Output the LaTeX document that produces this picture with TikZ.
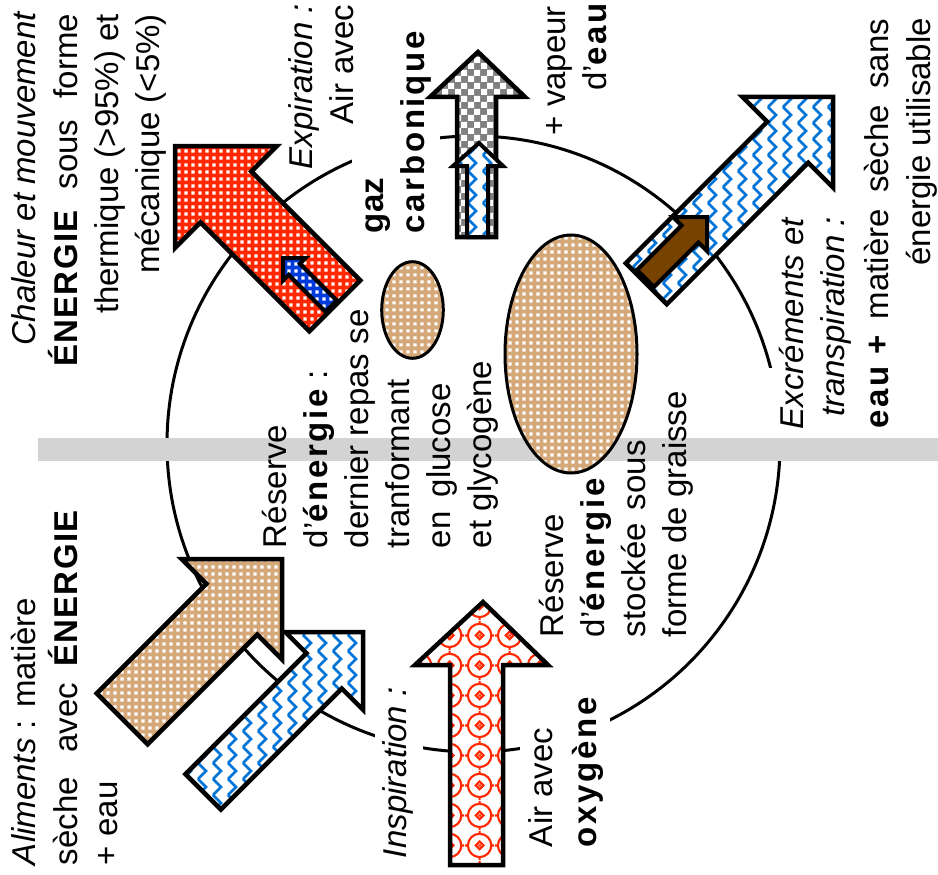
\documentclass[tikz,border=0pt]{standalone}
\usepackage{fontspec}
\setmainfont{Liberation Sans}
\newfontfamily\kwfont[LetterSpace=8]{Liberation Sans}
\newfontfamily\kwEfont[LetterSpace=4]{Liberation Sans}
\usetikzlibrary{patterns}

\definecolor{arrowred}{RGB}{255,40,0}
\definecolor{dotblue}{RGB}{0,60,220}
\definecolor{wavblue}{RGB}{0,115,215}
\definecolor{foodtan}{RGB}{212,168,120}
\definecolor{dkbrown}{RGB}{120,66,0}
\definecolor{bandgrey}{RGB}{211,211,211}
\definecolor{midgrey}{RGB}{128,128,128}

\newcommand{\kwb}[1]{{\kwfont\bfseries #1}}
\newcommand{\kwbig}[1]{{\kwEfont\bfseries #1}}

\pgfdeclarepatternformonly{mysq}{\pgfqpoint{0pt}{0pt}}{\pgfqpoint{6.5pt}{6.5pt}}{\pgfqpoint{6.5pt}{6.5pt}}{%
  \pgfpathrectangle{\pgfqpoint{1.6pt}{1.6pt}}{\pgfqpoint{3.3pt}{3.3pt}}\pgfusepath{fill}}
\pgfdeclarepatternformonly{mycheck}{\pgfqpoint{0pt}{0pt}}{\pgfqpoint{13pt}{13pt}}{\pgfqpoint{13pt}{13pt}}{%
  \pgfpathrectangle{\pgfqpoint{0pt}{0pt}}{\pgfqpoint{6.5pt}{6.5pt}}%
  \pgfpathrectangle{\pgfqpoint{6.5pt}{6.5pt}}{\pgfqpoint{6.5pt}{6.5pt}}\pgfusepath{fill}}
\pgfdeclarepatternformonly{myzig}{\pgfqpoint{-3pt}{-3pt}}{\pgfqpoint{18pt}{19pt}}{\pgfqpoint{15pt}{16pt}}{%
  \pgfsetlinewidth{2.6pt}\pgfsetmiterjoin%
  \pgfpathmoveto{\pgfqpoint{3pt}{0pt}}\pgfpathlineto{\pgfqpoint{11pt}{8pt}}\pgfpathlineto{\pgfqpoint{3pt}{16pt}}\pgfusepath{stroke}}
\pgfdeclarepatternformonly{mylat}{\pgfqpoint{-15pt}{-15pt}}{\pgfqpoint{15pt}{15pt}}{\pgfqpoint{30pt}{30pt}}{%
  \pgfsetlinewidth{2.2pt}%
  \pgfpathcircle{\pgfqpoint{0pt}{0pt}}{12pt}%
  \pgfpathmoveto{\pgfqpoint{0pt}{12pt}}\pgfpathlineto{\pgfqpoint{0pt}{15pt}}%
  \pgfpathmoveto{\pgfqpoint{0pt}{-12pt}}\pgfpathlineto{\pgfqpoint{0pt}{-15pt}}%
  \pgfpathmoveto{\pgfqpoint{12pt}{0pt}}\pgfpathlineto{\pgfqpoint{15pt}{0pt}}%
  \pgfpathmoveto{\pgfqpoint{-12pt}{0pt}}\pgfpathlineto{\pgfqpoint{-15pt}{0pt}}%
  \pgfpathmoveto{\pgfqpoint{0pt}{4pt}}\pgfpathlineto{\pgfqpoint{4pt}{0pt}}\pgfpathlineto{\pgfqpoint{0pt}{-4pt}}\pgfpathlineto{\pgfqpoint{-4pt}{0pt}}\pgfpathclose
  \pgfusepath{stroke}%
  \pgfpathrectangle{\pgfqpoint{-1.2pt}{-1.2pt}}{\pgfqpoint{2.4pt}{2.4pt}}\pgfusepath{fill}}

% block arrow: style, tip, canvas angle, length, shaft half width, head half width, head length
\newcommand{\blkarrow}[7]{%
  \draw[#1, shift={#2}, rotate=#3] (0,0) -- (-#7,#6) -- (-#7,#5) -- (-#4,#5) -- (-#4,-#5) -- (-#7,-#5) -- (-#7,-#6) -- cycle;}

\begin{document}
\begin{tikzpicture}[x=1pt, y=-1pt,
  every node/.style={inner sep=0pt, outer sep=0pt},
  txt/.style={rotate=90, font=\fontsize{33}{41}\selectfont},
  arrowline/.style={draw=black, line width=4.5pt, line join=miter},
  redfill/.style={arrowline, preaction={fill=arrowred}, pattern=mysq, pattern color=white},
  bluefill/.style={draw=black, line width=4pt, preaction={fill=dotblue}, pattern=mysq, pattern color=white},
  greyfill/.style={arrowline, preaction={fill=midgrey}, pattern=mycheck, pattern color=white},
  wavefill/.style={arrowline, preaction={fill=white}, pattern=myzig, pattern color=wavblue},
  tanfill/.style={arrowline, preaction={fill=foodtan}, pattern=mysq, pattern color=white},
  brownfill/.style={draw=black, line width=4pt, fill=dkbrown},
  latfill/.style={arrowline, preaction={fill=white}, pattern=mylat, pattern color=arrowred},
  reserve/.style={draw=black, line width=3pt, preaction={fill=foodtan}, pattern=mysq, pattern color=white}]

\useasboundingbox (0,0) rectangle (938,875);
\fill[white] (0,0) rectangle (938,875);

% body outline
\draw[line width=3pt] (473.5,444) ellipse [x radius=306.5, y radius=308];

% masks under text boxes
\fill[white] (352,118) rectangle (440,168);
\fill[white] (375,728) rectangle (423,762);
\fill[white] (520,710) rectangle (610,762);
\fill[white] (762,368) rectangle (806,440);

% grey band
\fill[bandgrey] (38,438) rectangle (938,461);

% energy reserves
\draw[reserve] (412.5,310) ellipse [x radius=30.8, y radius=48.3];
\draw[reserve] (571,354) ellipse [x radius=66, y radius=119];

% texts
\node[txt, anchor=base east] (tl1) at (35,11) {\textit{Chaleur et mouvement}};
\node[txt, anchor=base east] (tl2) at (77,14) {\kwbig{ÉNERGIE}\hspace{12pt} sous\hspace{12pt} forme};
\node[txt, anchor=base east] (tl3) at (118,14) {thermique (>95\%) et};
\node[txt, anchor=base east] (tl4) at (159.5,14) {mécanique (<5\%)};

\node[txt, anchor=base east] (ex1) at (312,4) {\textit{Expiration :}};
\node[txt, anchor=base east] (ex2) at (353,5) {Air avec};
\node[txt, anchor=base west] (ex3) at (383,233) {\textbf{gaz}};
\node[txt, anchor=base west] (ex4) at (424,233) {\kwb{carbonique}};
\node[txt, anchor=base east] (ex5) at (565,6) {+ vapeur};
\node[txt, anchor=base east] (ex6) at (606,3) {d’\kwb{eau}};

\node[txt, anchor=base west] (r1) at (286,548) {Réserve};
\node[txt, anchor=base west] (r2) at (327,548) {d’\kwb{énergie} :};
\node[txt, anchor=base west] (r3) at (368,548) {dernier repas se};
\node[txt, anchor=base west] (r4) at (409,548) {tranformant};
\node[txt, anchor=base west] (r5) at (450,548) {en\hspace{5pt} glucose};
\node[txt, anchor=base west] (r6) at (491,548) {et glycogène};

\node[txt, anchor=base west] (s1) at (563,637) {Réserve};
\node[txt, anchor=base west] (s2) at (604,637) {d’\kwb{énergie}};
\node[txt, anchor=base west] (s3) at (645,637) {stockée\hspace{4pt} sous};
\node[txt, anchor=base west] (s4) at (686,637) {forme de graisse};

\node[txt, anchor=base east] (e1) at (803,217) {\textit{Excréments et}};
\node[txt, anchor=base east] (e2) at (844,217) {\textit{transpiration :}};
\node[txt, anchor=base east] (e3) at (888,19) {\kwb{eau +}\hspace{7pt} matière\hspace{7pt} sèche\hspace{7pt} sans};
\node[txt, anchor=base east] (e4) at (930,18) {énergie utilisable};

\node[txt, anchor=base west] (a1) at (35,865) {\textit{Aliments} : matière};
\node[txt, anchor=base west] (a2) at (77,865) {sèche\hspace{15pt} avec\hspace{7pt} \kwbig{ÉNERGIE}};
\node[txt, anchor=base west] (a3) at (117,865) {+ eau};

\node[txt, anchor=base west] (i1) at (406,858) {\textit{Inspiration :}};
\node[txt, anchor=base west] (o1) at (552,847) {Air avec};
\node[txt, anchor=base west] (o2) at (596,847) {\kwb{oxygène}};

% arrows
\blkarrow{redfill}{(175,146)}{135}{226}{36}{72}{72}
\blkarrow{bluefill}{(283,258)}{135}{68}{8}{16}{16}

\draw[greyfill] (478,52) -- (525,97) -- (496,97) -- (496,237) -- (457,237) -- (457,97) -- (430,97) -- cycle;
\draw[wavefill, line width=4pt] (479,143) -- (503,166) -- (488,166) -- (488,237) -- (467,237) -- (467,166) -- (453,166) -- cycle;

\blkarrow{wavefill}{(833,97)}{45}{264}{29}{64}{64}
\blkarrow{brownfill}{(707,217)}{45}{87}{12}{24}{24}

\blkarrow{tanfill}{(282,559)}{45}{226}{36}{71}{71}
\blkarrow{wavefill}{(363,632)}{45}{226}{25}{55}{55}

\draw[latfill] (483,602) -- (548,665) -- (503,665) -- (503,865) -- (450,865) -- (450,665) -- (415,665) -- cycle;

\end{tikzpicture}
\end{document}
